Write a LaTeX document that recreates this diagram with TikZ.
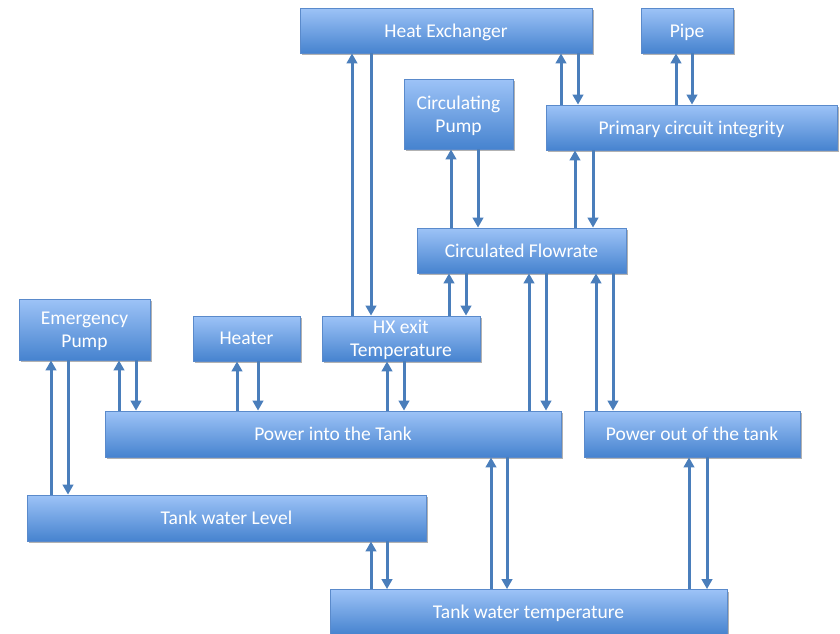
\documentclass[tikz,border=0pt]{standalone}
\usepackage{fontspec}
\setmainfont{Carlito}
\usetikzlibrary{arrows.meta,shadows}
\definecolor{boxtop}{HTML}{9DC3F7}
\definecolor{boxbot}{HTML}{4683CF}
\definecolor{boxline}{HTML}{5A8ACB}
\definecolor{arrcol}{HTML}{4A7EBB}
\tikzset{
  box/.style={draw=boxline, line width=0.8pt, top color=boxtop, bottom color=boxbot,
    text=white, align=center, inner sep=0pt, text depth=0pt,
    font=\fontsize{19.5}{23.5}\selectfont,
    drop shadow={shadow xshift=1.5pt, shadow yshift=-2pt, opacity=0.3, fill=black}},
  arr/.style={draw=arrcol, line width=3pt, -{Triangle[width=10.5pt,length=10pt]}}
}
\begin{document}
\begin{tikzpicture}[x=1pt,y=-1pt]
\useasboundingbox (0,0) rectangle (840,633);
% boxes
\node[box, minimum width=292pt, minimum height=45pt] (he) at (446,30.5) {Heat Exchanger};
\node[box, minimum width=92pt, minimum height=45pt] (pipe) at (687,30.5) {Pipe};
\node[box, minimum width=109pt, minimum height=70pt] (cpump) at (458.5,114) {Circulating\\Pump};
\node[box, minimum width=291pt, minimum height=45pt] (prim) at (691.5,127.5) {Primary circuit integrity};
\node[box, minimum width=209pt, minimum height=45pt] (cf) at (521.5,250.5) {Circulated Flowrate};
\node[box, minimum width=131pt, minimum height=61pt] (ep) at (84.5,329.5) {Emergency\\Pump};
\node[box, minimum width=107pt, minimum height=45pt] (heater) at (246.5,338.5) {Heater};
\node[box, minimum width=158pt, minimum height=45pt] (hx) at (401,338.5) {HX exit\\Temperature};
\node[box, minimum width=456pt, minimum height=46pt] (pin) at (333,434) {Power into the Tank};
\node[box, minimum width=216pt, minimum height=46pt] (pout) at (692,434) {Power out of the tank};
\node[box, minimum width=399pt, minimum height=46pt] (lvl) at (226.5,518) {Tank water Level};
\node[box, minimum width=397pt, minimum height=45pt] (temp) at (528.5,612) {Tank water temperature};
% arrow pairs: up (lower -> upper), down (upper -> lower)
\draw[arr] (352,0 |- hx.north) -- (352,0 |- he.south);
\draw[arr] (371,0 |- he.south) -- (371,0 |- hx.north);
\draw[arr] (561,0 |- prim.north) -- (561,0 |- he.south);
\draw[arr] (578,0 |- he.south) -- (578,0 |- prim.north);
\draw[arr] (676,0 |- prim.north) -- (676,0 |- pipe.south);
\draw[arr] (692,0 |- pipe.south) -- (692,0 |- prim.north);
\draw[arr] (451,0 |- cf.north) -- (451,0 |- cpump.south);
\draw[arr] (478,0 |- cpump.south) -- (478,0 |- cf.north);
\draw[arr] (575,0 |- cf.north) -- (575,0 |- prim.south);
\draw[arr] (593,0 |- prim.south) -- (593,0 |- cf.north);
\draw[arr] (449,0 |- hx.north) -- (449,0 |- cf.south);
\draw[arr] (466,0 |- cf.south) -- (466,0 |- hx.north);
\draw[arr] (529,0 |- pin.north) -- (529,0 |- cf.south);
\draw[arr] (546,0 |- cf.south) -- (546,0 |- pin.north);
\draw[arr] (596,0 |- pout.north) -- (596,0 |- cf.south);
\draw[arr] (613,0 |- cf.south) -- (613,0 |- pout.north);
\draw[arr] (119,0 |- pin.north) -- (119,0 |- ep.south);
\draw[arr] (136,0 |- ep.south) -- (136,0 |- pin.north);
\draw[arr] (237,0 |- pin.north) -- (237,0 |- heater.south);
\draw[arr] (258,0 |- heater.south) -- (258,0 |- pin.north);
\draw[arr] (387,0 |- pin.north) -- (387,0 |- hx.south);
\draw[arr] (404,0 |- hx.south) -- (404,0 |- pin.north);
\draw[arr] (51,0 |- lvl.north) -- (51,0 |- ep.south);
\draw[arr] (68,0 |- ep.south) -- (68,0 |- lvl.north);
\draw[arr] (371,0 |- temp.north) -- (371,0 |- lvl.south);
\draw[arr] (387,0 |- lvl.south) -- (387,0 |- temp.north);
\draw[arr] (491,0 |- temp.north) -- (491,0 |- pin.south);
\draw[arr] (507,0 |- pin.south) -- (507,0 |- temp.north);
\draw[arr] (689,0 |- temp.north) -- (689,0 |- pout.south);
\draw[arr] (707,0 |- pout.south) -- (707,0 |- temp.north);
\end{tikzpicture}
\end{document}
